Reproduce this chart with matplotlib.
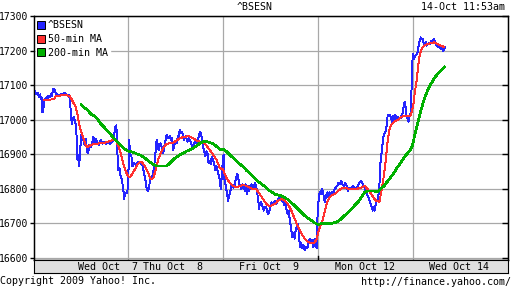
import numpy as np
import matplotlib.pyplot as plt
from matplotlib.lines import Line2D

# --- DATA (time in trading sessions, 0 = open of Wed Oct 7) ---
bsesn = [
    (0.007, 17088), (0.025, 17073), (0.042, 17078), (0.060, 17066), (0.071, 17073), (0.078, 17059),
    (0.085, 17064), (0.095, 17021), (0.106, 17035), (0.113, 17054), (0.123, 17059), (0.134, 17064),
    (0.148, 17059), (0.158, 17069), (0.172, 17066), (0.183, 17073), (0.193, 17069), (0.207, 17088),
    (0.218, 17090), (0.228, 17083), (0.239, 17069), (0.253, 17073), (0.271, 17069), (0.288, 17073),
    (0.306, 17071), (0.323, 17078), (0.341, 17073), (0.358, 17069), (0.376, 17071), (0.386, 17054),
    (0.393, 17021), (0.404, 16988), (0.414, 17002), (0.428, 17007), (0.439, 16992), (0.450, 16978),
    (0.457, 16935), (0.464, 16883), (0.471, 16897), (0.481, 16866), (0.492, 16907), (0.502, 16954),
    (0.516, 16950), (0.527, 16940), (0.541, 16926), (0.551, 16945), (0.562, 16911), (0.576, 16902),
    (0.590, 16926), (0.604, 16921), (0.621, 16935), (0.632, 16950), (0.646, 16930), (0.656, 16945),
    (0.674, 16935), (0.692, 16926), (0.709, 16940), (0.727, 16930), (0.744, 16935), (0.762, 16930),
    (0.779, 16935), (0.807, 16930), (0.832, 16935), (0.850, 16950), (0.860, 16978), (0.871, 16983),
    (0.878, 16964), (0.885, 16902), (0.895, 16854), (0.906, 16859), (0.920, 16835), (0.934, 16826),
    (0.941, 16807), (0.948, 16797), (0.955, 16769), (0.965, 16783), (0.976, 16788), (0.990, 16786),
    # Thu Oct 8
    (1.003, 16860), (1.010, 16940), (1.018, 16900), (1.032, 16897), (1.042, 16864), (1.060, 16873),
    (1.077, 16869), (1.095, 16873), (1.113, 16878), (1.130, 16873), (1.148, 16869), (1.165, 16845),
    (1.183, 16821), (1.193, 16802), (1.207, 16792), (1.218, 16802), (1.228, 16822), (1.246, 16831),
    (1.263, 16846), (1.281, 16884), (1.292, 16922), (1.299, 16941), (1.309, 16931), (1.320, 16912),
    (1.327, 16927), (1.341, 16931), (1.355, 16917), (1.369, 16903), (1.379, 16922), (1.393, 16941),
    (1.404, 16955), (1.414, 16951), (1.425, 16946), (1.439, 16951), (1.449, 16941), (1.460, 16946),
    (1.474, 16912), (1.485, 16927), (1.495, 16936), (1.509, 16931), (1.520, 16946), (1.534, 16955),
    (1.544, 16970), (1.555, 16960), (1.565, 16965), (1.579, 16951), (1.590, 16941), (1.600, 16951),
    (1.614, 16946), (1.625, 16936), (1.635, 16946), (1.649, 16941), (1.667, 16927), (1.678, 16917),
    (1.685, 16927), (1.695, 16931), (1.706, 16941), (1.720, 16931), (1.730, 16936), (1.744, 16951),
    (1.755, 16965), (1.765, 16960), (1.776, 16946), (1.783, 16931), (1.790, 16917), (1.800, 16912),
    (1.811, 16893), (1.825, 16908), (1.835, 16903), (1.846, 16874), (1.860, 16879), (1.870, 16870),
    (1.881, 16893), (1.895, 16879), (1.906, 16874), (1.916, 16855), (1.930, 16865), (1.941, 16851),
    (1.951, 16841), (1.965, 16827), (1.976, 16798),
    # Fri Oct 9
    (2.000, 16893), (2.007, 16898), (2.014, 16827), (2.028, 16808), (2.042, 16784), (2.053, 16765),
    (2.063, 16779), (2.078, 16793), (2.088, 16808), (2.106, 16803), (2.123, 16812), (2.134, 16827),
    (2.148, 16841), (2.158, 16836), (2.169, 16812), (2.183, 16808), (2.193, 16798), (2.204, 16812),
    (2.218, 16808), (2.228, 16793), (2.239, 16812), (2.253, 16784), (2.263, 16808), (2.274, 16793),
    (2.288, 16808), (2.299, 16812), (2.309, 16798), (2.323, 16803), (2.337, 16817), (2.351, 16803),
    (2.362, 16784), (2.372, 16765), (2.379, 16741), (2.386, 16755), (2.400, 16760), (2.414, 16751),
    (2.428, 16736), (2.443, 16746), (2.456, 16746), (2.470, 16727), (2.485, 16731), (2.509, 16760),
    (2.527, 16751), (2.544, 16765), (2.562, 16755), (2.579, 16770), (2.597, 16774), (2.614, 16765),
    (2.632, 16770), (2.642, 16751), (2.656, 16760), (2.667, 16741), (2.678, 16727), (2.692, 16736),
    (2.702, 16712), (2.713, 16693), (2.720, 16679), (2.730, 16660), (2.741, 16670), (2.755, 16655),
    (2.765, 16679), (2.776, 16689), (2.790, 16698), (2.800, 16665), (2.811, 16631), (2.825, 16641),
    (2.835, 16627), (2.846, 16636), (2.860, 16622), (2.874, 16631), (2.888, 16627), (2.902, 16646),
    (2.913, 16655), (2.923, 16641), (2.937, 16651), (2.948, 16631), (2.958, 16636), (2.965, 16655),
    (2.976, 16646), (2.986, 16627),
    # Mon Oct 12
    (3.000, 16755), (3.011, 16770), (3.018, 16789), (3.028, 16784), (3.042, 16798), (3.053, 16793),
    (3.063, 16774), (3.074, 16760), (3.084, 16779), (3.098, 16789), (3.113, 16774), (3.123, 16789),
    (3.134, 16779), (3.148, 16789), (3.162, 16784), (3.176, 16798), (3.190, 16803), (3.204, 16808),
    (3.218, 16817), (3.232, 16812), (3.246, 16822), (3.260, 16812), (3.274, 16808), (3.288, 16817),
    (3.302, 16808), (3.316, 16793), (3.334, 16803), (3.351, 16798), (3.369, 16808), (3.386, 16803),
    (3.404, 16798), (3.421, 16808), (3.439, 16817), (3.456, 16822), (3.474, 16812), (3.492, 16803),
    (3.509, 16789), (3.527, 16779), (3.544, 16765), (3.562, 16751), (3.579, 16736), (3.590, 16746),
    (3.597, 16736), (3.607, 16750), (3.618, 16765), (3.632, 16769), (3.642, 16788), (3.653, 16827),
    (3.660, 16875), (3.670, 16899), (3.681, 16927), (3.695, 16956), (3.709, 16961), (3.720, 16970),
    (3.730, 16999), (3.737, 17013), (3.751, 17009), (3.762, 17013), (3.772, 17004), (3.783, 16994),
    (3.793, 17009), (3.807, 16999), (3.818, 17013), (3.828, 16999), (3.843, 17007), (3.856, 17004),
    (3.871, 17004), (3.885, 17013), (3.895, 17018), (3.906, 17042), (3.916, 17052), (3.927, 17032),
    (3.934, 17013), (3.948, 16999), (3.958, 16994), (3.969, 17013), (3.979, 17018),
    # Wed Oct 14
    (4.000, 17190), (4.011, 17176), (4.021, 17181), (4.032, 17186), (4.042, 17190), (4.053, 17195),
    (4.063, 17214), (4.074, 17229), (4.085, 17238), (4.095, 17233), (4.106, 17233), (4.116, 17219),
    (4.127, 17214), (4.137, 17224), (4.148, 17214), (4.158, 17219), (4.169, 17221), (4.179, 17219),
    (4.190, 17224), (4.200, 17229), (4.211, 17224), (4.221, 17233), (4.232, 17229), (4.242, 17219),
    (4.253, 17214), (4.263, 17210), (4.274, 17211), (4.285, 17208), (4.299, 17205), (4.309, 17210),
    (4.320, 17198), (4.330, 17205), (4.341, 17210),
]

ma50 = [
    (0.113, 17056), (0.218, 17059), (0.236, 17069), (0.271, 17069), (0.323, 17071), (0.376, 17069),
    (0.393, 17064), (0.411, 17054), (0.428, 17045), (0.446, 17035), (0.464, 17016), (0.481, 16988),
    (0.499, 16969), (0.516, 16954), (0.534, 16940), (0.551, 16926), (0.569, 16921), (0.586, 16923),
    (0.604, 16926), (0.639, 16929), (0.674, 16930), (0.709, 16932), (0.744, 16932), (0.779, 16935),
    (0.814, 16938), (0.850, 16942), (0.867, 16940), (0.885, 16930), (0.902, 16916), (0.920, 16902),
    (0.937, 16883), (0.955, 16864), (0.972, 16850), (0.990, 16840), (1.007, 16832), (1.025, 16835),
    (1.042, 16843), (1.060, 16852), (1.077, 16859), (1.095, 16869), (1.113, 16875), (1.130, 16878),
    (1.148, 16875), (1.165, 16869), (1.183, 16859), (1.200, 16850), (1.218, 16840), (1.228, 16831),
    (1.246, 16827), (1.263, 16831), (1.281, 16846), (1.299, 16865), (1.316, 16884), (1.334, 16898),
    (1.351, 16908), (1.369, 16917), (1.386, 16924), (1.404, 16930), (1.439, 16931), (1.474, 16933),
    (1.509, 16939), (1.544, 16946), (1.579, 16949), (1.614, 16951), (1.649, 16951), (1.685, 16946),
    (1.720, 16939), (1.755, 16936), (1.790, 16936), (1.807, 16931), (1.825, 16924), (1.860, 16912),
    (1.895, 16898), (1.930, 16884), (1.965, 16860), (2.000, 16855), (2.018, 16841), (2.035, 16831),
    (2.070, 16817), (2.106, 16808), (2.141, 16803), (2.176, 16808), (2.211, 16810), (2.246, 16808),
    (2.281, 16803), (2.316, 16798), (2.351, 16798), (2.386, 16784), (2.421, 16770), (2.456, 16755),
    (2.485, 16749), (2.509, 16751), (2.544, 16755), (2.579, 16765), (2.614, 16770), (2.649, 16765),
    (2.684, 16755), (2.720, 16736), (2.755, 16712), (2.790, 16689), (2.825, 16670), (2.860, 16655),
    (2.895, 16646), (2.930, 16641), (2.965, 16644), (2.983, 16651), (3.000, 16670), (3.018, 16684),
    (3.035, 16698), (3.053, 16712), (3.070, 16731), (3.088, 16751), (3.106, 16765), (3.123, 16774),
    (3.141, 16779), (3.176, 16784), (3.211, 16793), (3.246, 16800), (3.281, 16803), (3.316, 16800),
    (3.351, 16798), (3.386, 16800), (3.421, 16800), (3.456, 16803), (3.492, 16808), (3.527, 16798),
    (3.562, 16784), (3.597, 16770), (3.614, 16765), (3.649, 16762), (3.674, 16798), (3.695, 16836),
    (3.709, 16865), (3.723, 16903), (3.737, 16942), (3.755, 16970), (3.772, 16985), (3.790, 16989),
    (3.807, 16994), (3.842, 16999), (3.877, 17007), (3.913, 17011), (3.948, 17011), (3.976, 17011),
    (4.000, 17033), (4.011, 17052), (4.021, 17076), (4.032, 17095), (4.042, 17114), (4.053, 17143),
    (4.063, 17167), (4.074, 17186), (4.088, 17200), (4.106, 17210), (4.123, 17214), (4.158, 17219),
    (4.193, 17221), (4.228, 17224), (4.263, 17219), (4.299, 17214), (4.334, 17210),
]

ma200 = [
    (0.506, 17043), (0.534, 17035), (0.569, 17028), (0.604, 17016), (0.639, 17011), (0.674, 17002),
    (0.709, 16988), (0.744, 16978), (0.779, 16967), (0.814, 16957), (0.850, 16945), (0.885, 16935),
    (0.920, 16926), (0.955, 16916), (0.990, 16909), (1.025, 16907), (1.060, 16904), (1.095, 16900),
    (1.130, 16897), (1.165, 16890), (1.200, 16883), (1.235, 16875), (1.263, 16870), (1.299, 16865),
    (1.369, 16865), (1.404, 16865), (1.439, 16874), (1.474, 16884), (1.509, 16891), (1.544, 16898),
    (1.579, 16903), (1.614, 16908), (1.649, 16912), (1.685, 16917), (1.720, 16924), (1.755, 16931),
    (1.790, 16936), (1.825, 16936), (1.860, 16933), (1.895, 16930), (1.930, 16922), (1.965, 16914),
    (2.000, 16914), (2.035, 16908), (2.070, 16898), (2.106, 16889), (2.141, 16879), (2.176, 16871),
    (2.211, 16863), (2.246, 16853), (2.281, 16844), (2.316, 16834), (2.351, 16825), (2.386, 16817),
    (2.421, 16810), (2.456, 16803), (2.474, 16796), (2.509, 16791), (2.544, 16784), (2.579, 16781),
    (2.614, 16779), (2.649, 16774), (2.684, 16768), (2.720, 16758), (2.755, 16751), (2.790, 16741),
    (2.825, 16731), (2.860, 16722), (2.895, 16714), (2.930, 16708), (2.965, 16701), (3.000, 16696),
    (3.035, 16698), (3.070, 16698), (3.106, 16698), (3.141, 16699), (3.176, 16701), (3.211, 16705),
    (3.246, 16712), (3.281, 16722), (3.316, 16730), (3.351, 16739), (3.386, 16751), (3.421, 16760),
    (3.456, 16774), (3.492, 16789), (3.527, 16793), (3.562, 16793), (3.597, 16793), (3.632, 16790),
    (3.667, 16800), (3.702, 16809), (3.737, 16822), (3.772, 16834), (3.807, 16848), (3.842, 16863),
    (3.877, 16876), (3.913, 16892), (3.948, 16903), (3.976, 16913), (4.000, 16927), (4.018, 16951),
    (4.035, 16970), (4.053, 16989), (4.070, 17009), (4.088, 17028), (4.106, 17045), (4.123, 17061),
    (4.158, 17085), (4.193, 17104), (4.228, 17119), (4.263, 17133), (4.299, 17143), (4.334, 17152),
]

y_ticks = [16600, 16700, 16800, 16900, 17000, 17100, 17200, 17300]
day_labels = ["Wed Oct  7", "Thu Oct  8", "Fri Oct  9", "Mon Oct 12", "Wed Oct 14"]
day_label_pos = [0.47, 1.79, 2.484, 3.494, 4.488]
day_label_ha = ['left', 'right', 'center', 'center', 'center']

FONT = "DejaVu Sans Mono"
FS = 7.2
plt.rcParams['font.family'] = FONT
plt.rcParams['font.size'] = FS

# --- PLOT ---
fig = plt.figure(figsize=(5.12, 2.88), dpi=100)
ax = fig.add_axes([33.5 / 512, 28 / 288, 474 / 512, 244 / 288])

colors = ['#2424ff', '#ff3030', '#00b000']
for data, col, lw in [(bsesn, colors[0], 0.7), (ma50, colors[1], 0.7), (ma200, colors[2], 1.2)]:
    t, v = np.array(data).T
    ax.plot(t, v, color=col, lw=lw, antialiased=False, zorder=3)

ax.set_xlim(0, 5)
ax.set_ylim(16593, 17300)
ax.set_yticks(y_ticks)
ax.set_xticks([1, 2, 3, 4])
ax.tick_params(axis='x', length=0, labelbottom=False)
ax.tick_params(axis='y', direction='out', length=3, width=1, pad=0.8, labelsize=7.0)
ax.grid(True, color='#a8a8a8', lw=0.9)
for s in ax.spines.values():
    s.set_linewidth(1.0)

# right-side inward ticks
ax_r = ax.twinx()
ax_r.set_ylim(ax.get_ylim())
ax_r.set_yticks(y_ticks)
ax_r.tick_params(axis='y', direction='in', length=4, width=1, labelright=False)

# week boundary tick
ax.plot([3, 3], [16593, 16606], color='black', lw=1.0, zorder=4)

handles = [Line2D([], [], ls='none', marker='s', markersize=5.5, markerfacecolor=c,
                  markeredgecolor='black', markeredgewidth=0.7) for c in colors]
leg = ax.legend(handles, ['^BSESN', '50-min MA', '200-min MA'], loc='upper left',
                bbox_to_anchor=(0.0, 1.0), frameon=True, fancybox=False, framealpha=1,
                edgecolor='white', facecolor='white', borderpad=0.25, borderaxespad=0.2,
                handlelength=0.6, handletextpad=0.35, labelspacing=0.35, fontsize=FS)
leg.set_zorder(5)

# date bar
axb = fig.add_axes([33.5 / 512, 15 / 288, 474 / 512, 13 / 288])
axb.set_facecolor('#e0e0e0')
axb.set_xlim(0, 5)
axb.set_ylim(0, 1)
axb.set_xticks([])
axb.set_yticks([])
for lab, pos, ha in zip(day_labels, day_label_pos, day_label_ha):
    axb.text(pos, 0.45, lab, ha=ha, va='center', fontsize=FS)

fig.text(255 / 512, 1 - 7 / 288, '^BSESN', ha='center', va='center', fontsize=FS)
fig.text(505 / 512, 1 - 7 / 288, '14-Oct 11:53am', ha='right', va='center', fontsize=FS)
fig.text(0.0, 1 - 281 / 288, 'Copyright 2009 Yahoo! Inc.', ha='left', va='center', fontsize=FS)
fig.text(511 / 512, 1 - 282 / 288, 'http://finance.yahoo.com/', ha='right', va='center', fontsize=FS)

fig.savefig('out.png', dpi=100)
